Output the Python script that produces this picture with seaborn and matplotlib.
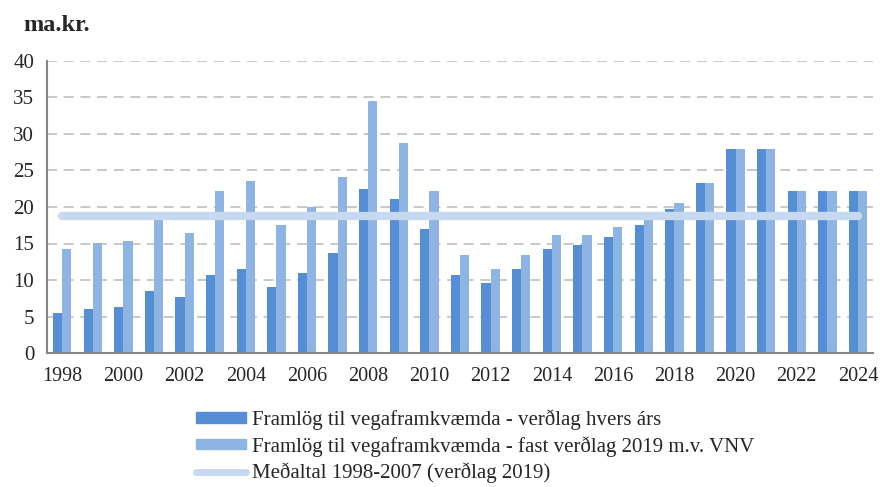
import matplotlib
matplotlib.use("Agg")
import matplotlib.pyplot as plt
import seaborn as sns
import numpy as np
import pandas as pd
from matplotlib.lines import Line2D

years = list(range(1998, 2025))
nominal = [5.5, 6.1, 6.3, 8.5, 7.7, 10.7, 11.5, 9.1, 11.0, 13.7, 22.5, 21.1, 17.0,
           10.7, 9.6, 11.5, 14.3, 14.8, 15.9, 17.5, 19.7, 23.3, 27.9, 27.9, 22.2, 22.2, 22.2]
fixed_2019 = [14.3, 15.1, 15.4, 19.1, 16.5, 22.2, 23.6, 17.5, 20.0, 24.1, 34.5, 28.8, 22.2,
              13.4, 11.5, 13.4, 16.2, 16.2, 17.3, 18.4, 20.6, 23.3, 27.9, 27.9, 22.2, 22.2, 22.2]
series_names = ["Framlög til vegaframkvæmda - verðlag hvers árs",
                "Framlög til vegaframkvæmda - fast verðlag 2019 m.v. VNV"]
avg_label = "Meðaltal 1998-2007 (verðlag 2019)"
colors = ["#558ed5", "#8eb4e3"]
line_color = "#c6d9f1"

df = pd.DataFrame({
    "year": [str(y) for y in years] * 2,
    "value": nominal + fixed_2019,
    "series": [series_names[0]] * len(years) + [series_names[1]] * len(years),
})
# meðaltal fasts verðlags 1998-2007
avg = np.mean(fixed_2019[:10])

sns.set_theme(style="white")
plt.rcParams["font.family"] = ["Liberation Serif", "DejaVu Serif"]

fig = plt.figure(figsize=(8.83, 4.87), dpi=100)
ax = fig.add_axes([0.053, 0.275, 0.936, 0.6])

sns.barplot(data=df, x="year", y="value", hue="series", palette=colors,
            width=0.6, gap=0, saturation=1, linewidth=0, legend=False, ax=ax)
xs = np.arange(len(years))
ax.plot(xs, [avg] * len(xs), color=line_color, lw=6, solid_capstyle="round", zorder=4)

ax.set_ylim(0, 40)
ax.set_xlim(-0.5, len(years) - 0.5)
ax.set_yticks(range(0, 41, 5))
ax.set_xticks(xs[::2])
ax.set_xticklabels([str(y) for y in years[::2]])
ax.set_xticks(np.arange(-0.5, len(years), 1), minor=True)
ax.tick_params(axis="x", which="major", length=0, pad=10, labelsize=14.5)
ax.tick_params(axis="x", which="minor", length=8, width=1.2, color="#868686", direction="out")
ax.tick_params(axis="y", length=6, width=1.2, color="#868686", labelsize=15, pad=3)
ax.set_xlabel("")
ax.set_ylabel("")
for y in range(5, 41, 5):
    ax.axhline(y, color="#bfbfbf", lw=1.2, ls=(0, (6, 4)), zorder=0)
sns.despine(ax=ax)
for s in ["left", "bottom"]:
    ax.spines[s].set_color("#868686")
    ax.spines[s].set_linewidth(1.5)

fig.text(0.026, 0.948, "ma.kr.", fontsize=17.5, fontweight="bold", va="center")

handles = [plt.Rectangle((0, 0), 1, 1, color=colors[0]),
           plt.Rectangle((0, 0), 1, 1, color=colors[1]),
           Line2D([0], [0], color=line_color, lw=5, solid_capstyle="round")]
fig.legend(handles, series_names + [avg_label], loc="upper left",
           bbox_to_anchor=(0.222, 0.16), frameon=False, fontsize=15,
           handlelength=2.4, handleheight=0.4, handletextpad=0.3,
           labelspacing=0.3, borderpad=0, borderaxespad=0)

fig.savefig("out.png", dpi=100)
